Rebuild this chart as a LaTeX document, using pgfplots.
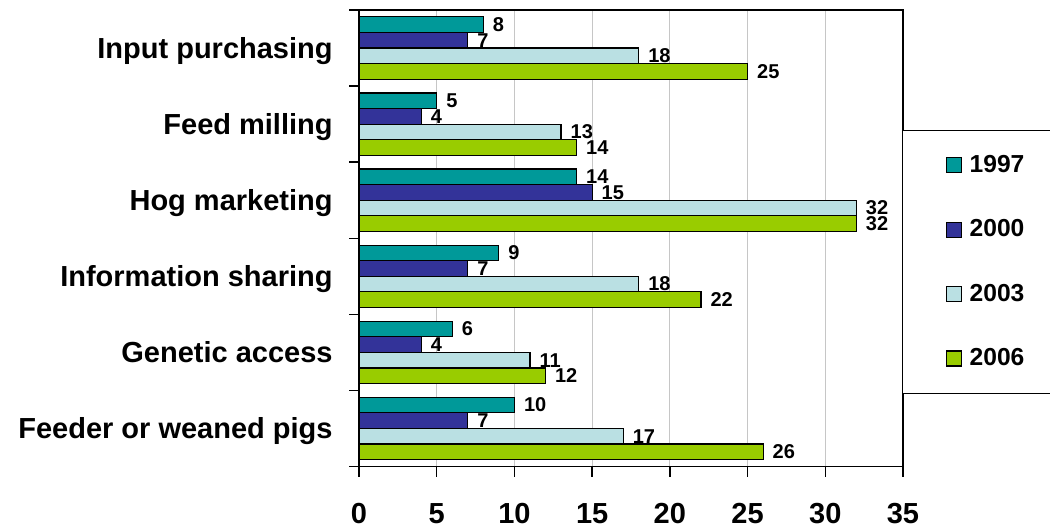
\documentclass[border=0pt]{standalone}
\usepackage{pgfplots}
\pgfplotsset{compat=1.18}
\usepackage{fontspec}
\setmainfont{Liberation Sans}

\definecolor{cTeal}{HTML}{009999}
\definecolor{cBlue}{HTML}{333399}
\definecolor{cLight}{HTML}{BAE0E3}
\definecolor{cGreen}{HTML}{99CC00}

\begin{document}
\begin{tikzpicture}
\useasboundingbox (0,0) rectangle (525pt,265.5pt);
\begin{axis}[
    at={(179.5pt,32.25pt)}, anchor=south west,
    scale only axis,
    width=272pt, height=228.25pt,
    xbar,
    bar width=0.205,
    xmin=0, xmax=35, ymin=-0.5, ymax=5.5,
    xtick={0,5,...,35},
    ytick={-0.5,0.5,...,5.5},
    yticklabels={,,,,,,},
    extra y ticks={0,1,2,3,4,5},
    extra y tick labels={Feeder or weaned pigs,Genetic access,Information sharing,Hog marketing,Feed milling,Input purchasing},
    extra y tick style={major tick length=0pt, tick style={draw=none}},
    tick pos=left,
    tick align=outside,
    major tick length=5pt,
    every tick/.style={black, line width=0.75pt},
    axis line style={line width=0.75pt},
    xmajorgrids,
    major grid style={gray!45, line width=0.6pt},
    /pgf/number format/assume math mode=true,
    tick label style={font=\bfseries\fontsize{14.5}{16}\selectfont},
    xticklabel style={inner sep=0pt, text height=10.4pt, text depth=0pt, yshift=-13pt},
    yticklabel style={inner sep=0pt, text height=10.5pt, text depth=0pt, xshift=-13pt},
    nodes near coords,
    nodes near coords style={font=\bfseries\fontsize{10}{11}\selectfont, anchor=west, inner sep=0pt, xshift=4.5pt, text=black},
    legend image code/.code={\draw[#1, draw=black, line width=0.6pt] (0pt,-3.75pt) rectangle (7.5pt,3.75pt);},
    legend cell align=left,
    legend style={
        at={(axis description cs:0.998,0.737)}, anchor=north west,
        draw=black, line width=0.6pt,
        inner xsep=21.5pt, inner ysep=12.3pt,
        row sep=22.1pt,
        font=\bfseries\fontsize{12.3}{13}\selectfont,
        nodes={inner sep=0pt},
        /tikz/every odd column/.append style={column sep=4pt},
    },
]
\addplot[fill=cTeal, draw=black, line width=0.6pt, bar shift=0.3075]
    coordinates {(10,0) (6,1) (9,2) (14,3) (5,4) (8,5)};
\addlegendentry{1997}
\addplot[fill=cBlue, draw=black, line width=0.6pt, bar shift=0.1025]
    coordinates {(7,0) (4,1) (7,2) (15,3) (4,4) (7,5)};
\addlegendentry{2000}
\addplot[fill=cLight, draw=black, line width=0.6pt, bar shift=-0.1025]
    coordinates {(17,0) (11,1) (18,2) (32,3) (13,4) (18,5)};
\addlegendentry{2003}
\addplot[fill=cGreen, draw=black, line width=0.6pt, bar shift=-0.3075]
    coordinates {(26,0) (12,1) (22,2) (32,3) (14,4) (25,5)};
\addlegendentry{2006}
\end{axis}
\end{tikzpicture}
\end{document}
